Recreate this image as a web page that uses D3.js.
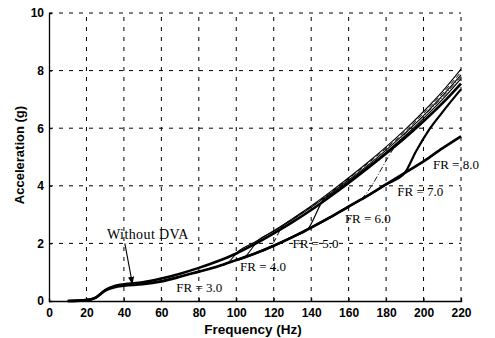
<!DOCTYPE html>
<html><head><meta charset="utf-8">
<script src="https://cdn.jsdelivr.net/npm/d3@7"></script>
<style>html,body{margin:0;padding:0;background:#fff;}svg{display:block;}</style>
</head><body>
<svg id="c" width="495" height="338"></svg>
<script>
const xTicks = [0,20,40,60,80,100,120,140,160,180,200,220];
const yTicks = [0,2,4,6,8,10];

const withoutDVA = [[10,0],[20,0.03],[25,0.12],[30,0.38],[35,0.52],[40,0.58],[50,0.65],[60,0.78],[70,0.95],[80,1.15],[90,1.38],[100,1.65],[110,1.98],[120,2.35],[130,2.74],[140,3.16],[150,3.62],[160,4.1],[170,4.6],[180,5.12],[190,5.66],[200,6.24],[210,6.86],[220,7.55]];
const lowerBranch = [[10,0],[20,0.03],[25,0.12],[30,0.36],[35,0.48],[40,0.53],[50,0.58],[60,0.68],[70,0.84],[80,1.02],[90,1.2],[100,1.42],[110,1.65],[120,1.92],[130,2.22],[140,2.55],[150,2.9],[160,3.28],[170,3.65],[180,4.05],[190,4.45],[200,4.85],[210,5.3],[220,5.72]];
const fr3 = [[10,0],[20,0.03],[25,0.12],[30,0.37],[35,0.5],[40,0.55],[50,0.6],[60,0.7],[70,0.85],[80,1.02],[90,1.2],[95,1.3],[101,1.72],[110,2.05],[120,2.44],[130,2.86],[140,3.3],[150,3.78],[160,4.28],[170,4.8],[180,5.35],[190,5.94],[200,6.58],[210,7.27],[220,8.05]];
const fr4 = [[40,0.54],[50,0.6],[60,0.7],[70,0.85],[80,1.02],[90,1.2],[100,1.42],[104,1.5],[112,2.12],[120,2.42],[130,2.82],[140,3.25],[150,3.72],[160,4.2],[170,4.7],[180,5.24],[190,5.82],[200,6.44],[210,7.12],[220,7.85]];
const fr5 = [[60,0.7],[70,0.85],[80,1.02],[90,1.2],[100,1.42],[110,1.65],[118,1.86],[125,2.62],[130,2.84],[140,3.27],[150,3.75],[160,4.25],[170,4.76],[180,5.3],[190,5.88],[200,6.52],[210,7.2],[220,7.95]];
const fr6 = [[80,1.02],[90,1.2],[100,1.42],[110,1.65],[120,1.92],[130,2.22],[138,2.48],[147,3.55],[150,3.68],[160,4.15],[170,4.65],[180,5.17],[190,5.73],[200,6.34],[210,6.99],[220,7.72]];
const fr7 = [[120,1.92],[130,2.22],[140,2.55],[150,2.9],[160,3.28],[166,3.5],[186,5.48],[190,5.8],[200,6.42],[210,7.07],[220,7.8]];
const fr8 = [[100,1.42],[110,1.65],[120,1.92],[130,2.22],[140,2.55],[150,2.9],[160,3.28],[170,3.65],[180,4.05],[190,4.45],[196,5.2],[203,5.95],[210,6.55],[220,7.35]];

const labels = [
  {t:"FR = 3.0", f:68, a:0.3},
  {t:"FR = 4.0", f:102, a:1.04},
  {t:"FR = 5.0", f:130, a:1.84},
  {t:"FR = 6.0", f:158, a:2.7},
  {t:"FR = 7.0", f:186, a:3.66},
  {t:"FR = 8.0", f:205, a:4.6}
];

const svg = d3.select("#c");
const x = d3.scaleLinear().domain([0,220]).range([49,461]);
const y = d3.scaleLinear().domain([0,10]).range([301,13]);

// grid
const g = svg.append("g");
g.selectAll(".vx").data(xTicks.filter(d=>d>0)).enter().append("line")
  .attr("x1",d=>x(d)).attr("x2",d=>x(d)).attr("y1",y(0)).attr("y2",y(10))
  .attr("stroke","#000").attr("stroke-width",1).attr("stroke-dasharray","4,6");
g.selectAll(".hy").data(yTicks.filter(d=>d>0)).enter().append("line")
  .attr("x1",x(0)).attr("x2",x(220)).attr("y1",d=>y(d)).attr("y2",d=>y(d))
  .attr("stroke","#000").attr("stroke-width",1).attr("stroke-dasharray","4,6");

// axes
const xAxis = svg.append("g").attr("transform",`translate(0,${y(0)})`)
  .call(d3.axisBottom(x).tickValues(xTicks).tickSize(-3).tickPadding(7));
const yAxis = svg.append("g").attr("transform",`translate(${x(0)},0)`)
  .call(d3.axisLeft(y).tickValues(yTicks).tickSize(-3).tickPadding(5));
[xAxis,yAxis].forEach(a=>{
  a.select(".domain").attr("stroke","#000").attr("stroke-width",1.3);
  a.selectAll(".tick line").attr("stroke","#000");
  a.selectAll("text").attr("font-family","Liberation Sans, Arial, sans-serif")
    .attr("font-size",12).attr("font-weight","bold").attr("fill","#000");
});

svg.append("text").attr("x",253).attr("y",334).attr("text-anchor","middle")
  .attr("font-family","Liberation Sans, Arial, sans-serif").attr("font-weight","bold")
  .attr("font-size",13.5).text("Frequency (Hz)");
svg.append("text").attr("transform","translate(24,155) rotate(-90)").attr("text-anchor","middle")
  .attr("font-family","Liberation Sans, Arial, sans-serif").attr("font-weight","bold")
  .attr("font-size",13).text("Acceleration (g)");

// lines
const line = d3.line().x(d=>x(d[0])).y(d=>y(d[1])).curve(d3.curveMonotoneX);
const series = [
  {d:lowerBranch, w:2.6, dash:null},
  {d:fr8, w:2.2, dash:null},
  {d:fr3, w:1.1, dash:null},
  {d:fr4, w:1.1, dash:null},
  {d:fr5, w:1.0, dash:"5,3"},
  {d:fr6, w:1.2, dash:null},
  {d:fr7, w:0.9, dash:"6,2,1,2"},
  {d:withoutDVA, w:2.6, dash:null}
];
svg.append("g").selectAll("path").data(series).enter().append("path")
  .attr("d",s=>line(s.d)).attr("fill","none").attr("stroke","#000")
  .attr("stroke-width",s=>s.w).attr("stroke-dasharray",s=>s.dash)
  .attr("stroke-linejoin","round");

// labels
svg.append("g").selectAll("text").data(labels).enter().append("text")
  .attr("x",d=>x(d.f)).attr("y",d=>y(d.a))
  .attr("font-family","Liberation Serif, Times New Roman, serif").attr("font-size",13)
  .attr("fill","#000").text(d=>d.t);

// annotation
svg.append("defs").append("marker").attr("id","ah").attr("viewBox","0 0 10 10")
  .attr("refX",9).attr("refY",5).attr("markerWidth",7).attr("markerHeight",7)
  .attr("orient","auto").append("path").attr("d","M0,1 L10,5 L0,9 Z").attr("fill","#000");
svg.append("text").attr("x",x(31)).attr("y",y(2.15))
  .attr("font-family","Liberation Serif, Times New Roman, serif").attr("font-size",14)
  .attr("letter-spacing",0.4).text("Without DVA");
svg.append("line").attr("x1",x(40.5)).attr("y1",y(2.0)).attr("x2",x(44.5)).attr("y2",y(0.6))
  .attr("stroke","#000").attr("stroke-width",1.1).attr("marker-end","url(#ah)");
</script>
</body></html>
